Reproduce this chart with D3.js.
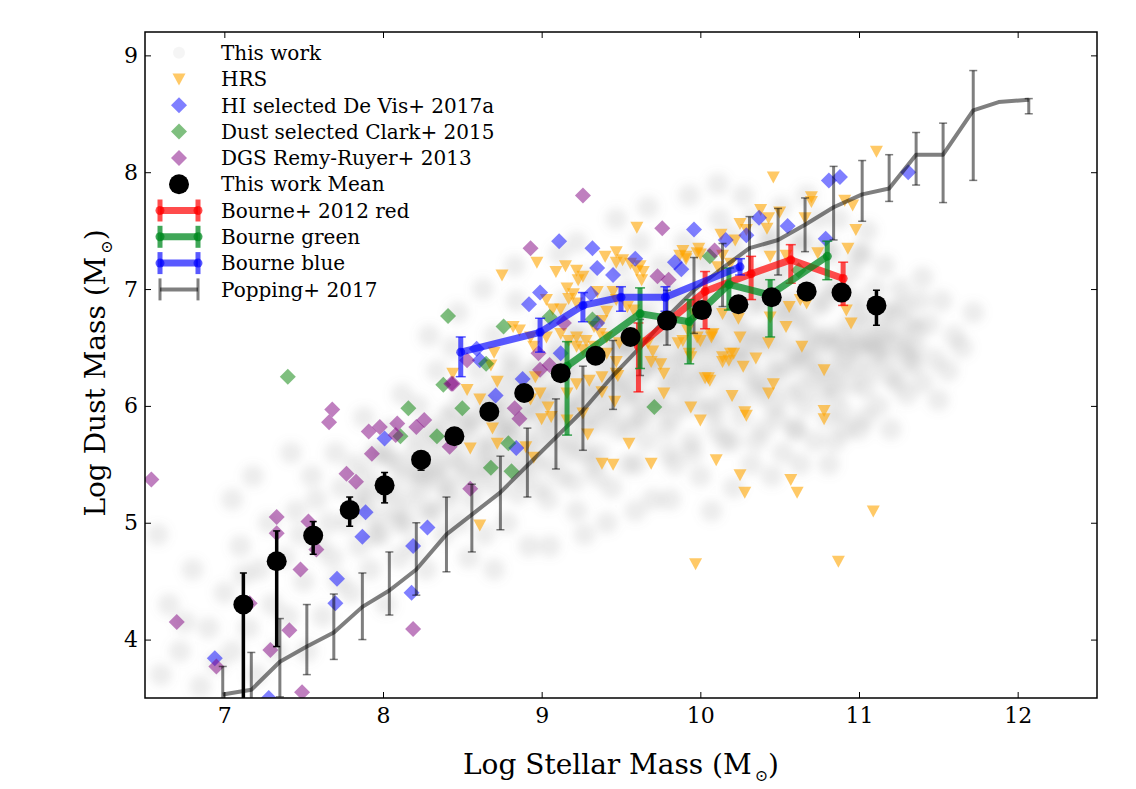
<!DOCTYPE html>
<html>
<head>
<meta charset="utf-8">
<script src="https://cdnjs.cloudflare.com/ajax/libs/d3/7.8.5/d3.min.js"></script>
<style>
  body { margin: 0; background: #fff; }
  text { font-family: "DejaVu Serif", serif; fill: #000; }
</style>
</head>
<body>
<svg id="chart" width="1136" height="789"></svg>
<script>
// ---- data (log stellar mass, log dust mass) ----
const xTicks = [7, 8, 9, 10, 11, 12];
const yTicks = [4, 5, 6, 7, 8, 9];

// faint background sample ("This work"), read off as a rough scatter
const cloudPts = [
  [6.6,3.7],[6.65,4.3],[6.72,3.9],[6.8,4.6],[6.85,3.6],[6.9,4.1],[6.58,4.9],[6.95,3.8],[6.75,4.15],
  [7.0,4.4],[7.05,3.9],[7.1,4.8],[7.15,4.1],[7.2,3.7],[7.22,4.6],[7.28,5.0],[7.3,4.3],[7.33,3.9],[7.05,5.2],[7.18,5.4],[7.12,4.55],
  [7.38,4.7],[7.4,4.2],[7.45,5.1],[7.5,4.5],[7.52,3.9],[7.55,5.4],[7.6,4.8],[7.62,4.2],[7.66,5.0],[7.7,5.6],[7.72,4.5],[7.42,5.6],[7.48,4.9],[7.58,5.2],[7.68,4.7],[7.74,5.3],
  [7.78,5.0],[7.8,4.4],[7.82,5.5],[7.85,4.8],[7.88,5.9],[7.9,5.2],[7.92,4.6],[7.95,5.6],[7.98,4.9],[8.0,5.3],[8.02,4.3],[8.05,5.8],[8.08,5.1],[8.1,4.7],[8.12,6.1],[8.14,5.4],[7.86,5.25],[7.96,5.05],[8.04,5.55],[8.1,5.0],
  [8.17,5.2],[8.19,4.8],[8.2,5.6],[8.22,6.0],[8.25,5.3],[8.27,4.6],[8.3,5.8],[8.32,5.1],[8.34,6.3],[8.36,5.5],[8.38,4.9],[8.4,5.9],[8.42,5.3],[8.44,6.5],[8.46,5.7],[8.48,5.0],[8.5,6.1],[8.52,5.4],[8.54,4.7],[8.23,5.45],[8.31,5.65],[8.37,5.35],[8.45,5.55],[8.51,5.8],[8.29,6.6],[8.47,6.8],
  [8.56,5.2],[8.58,5.9],[8.6,6.3],[8.62,5.5],[8.64,4.9],[8.66,6.0],[8.68,5.7],[8.7,6.6],[8.72,5.3],[8.74,6.2],[8.76,5.8],[8.78,5.0],[8.8,6.4],[8.82,5.6],[8.84,6.9],[8.86,5.9],[8.88,5.4],[8.9,6.2],[8.92,4.8],[8.94,6.0],[8.6,5.65],[8.67,5.45],[8.73,5.95],[8.79,5.75],[8.85,5.25],[8.91,5.7],[8.63,7.0],[8.83,7.2],[8.7,4.6],
  [8.96,5.5],[8.98,6.3],[9.0,5.9],[9.02,6.7],[9.04,5.2],[9.06,6.1],[9.08,5.7],[9.1,6.5],[9.12,5.4],[9.14,6.9],[9.16,6.0],[9.18,5.6],[9.2,6.3],[9.22,5.1],[9.24,6.6],[9.26,5.8],[9.28,7.1],[9.3,6.2],[9.32,5.5],[9.34,6.8],[9.0,6.05],[9.07,5.85],[9.13,6.2],[9.19,5.95],[9.25,6.1],[9.31,5.9],[9.05,4.8],[9.27,4.9],[9.11,7.3],[9.22,7.4],
  [9.36,5.6],[9.38,6.4],[9.4,6.0],[9.42,6.9],[9.44,5.3],[9.46,6.2],[9.48,5.8],[9.5,7.2],[9.52,6.5],[9.54,5.5],[9.56,6.1],[9.58,6.8],[9.6,5.9],[9.62,7.4],[9.64,6.3],[9.66,5.7],[9.68,6.6],[9.7,5.2],[9.72,7.0],[9.74,6.0],[9.39,6.15],[9.45,6.55],[9.51,6.25],[9.57,6.45],[9.63,6.05],[9.69,6.35],[9.41,5.0],[9.59,5.1],[9.47,7.6],[9.67,7.7],[9.55,6.7],
  [9.76,6.4],[9.78,5.8],[9.8,7.0],[9.82,6.2],[9.84,5.5],[9.86,6.7],[9.88,6.0],[9.9,7.4],[9.92,6.5],[9.94,5.7],[9.96,6.9],[9.98,6.2],[10.0,5.4],[10.02,6.6],[10.04,7.2],[10.06,6.0],[10.08,6.8],[10.1,5.8],[10.12,7.6],[10.14,6.4],[9.79,6.6],[9.85,6.35],[9.91,6.15],[9.97,6.55],[10.03,6.3],[10.09,6.5],[9.81,5.2],[10.07,5.1],[9.93,7.8],[10.11,7.9],[9.87,7.2],
  [10.16,6.1],[10.18,6.8],[10.2,5.7],[10.22,7.3],[10.24,6.4],[10.26,5.9],[10.28,7.0],[10.3,6.6],[10.32,5.5],[10.34,7.6],[10.36,6.2],[10.38,6.9],[10.4,5.8],[10.42,7.4],[10.44,6.5],[10.46,6.0],[10.48,7.1],[10.5,6.3],[10.52,5.6],[10.54,6.8],[10.19,6.45],[10.25,6.65],[10.31,6.25],[10.37,6.55],[10.43,6.15],[10.49,6.7],[10.21,5.3],[10.45,5.4],[10.27,7.8],[10.51,7.7],[10.35,7.1],
  [10.56,6.1],[10.58,6.9],[10.6,5.8],[10.62,7.4],[10.64,6.4],[10.66,6.0],[10.68,7.1],[10.7,6.6],[10.72,5.7],[10.74,7.6],[10.76,6.3],[10.78,6.9],[10.8,5.9],[10.82,7.3],[10.84,6.5],[10.86,6.1],[10.88,7.0],[10.9,6.4],[10.92,5.8],[10.94,6.7],[10.59,6.45],[10.65,6.7],[10.71,6.25],[10.77,6.55],[10.83,6.2],[10.89,6.6],[10.63,5.5],[10.81,5.5],[10.67,7.8],[10.87,7.6],
  [10.96,6.2],[10.98,6.9],[11.0,6.5],[11.02,7.3],[11.04,5.9],[11.06,6.7],[11.08,6.3],[11.1,7.0],[11.12,6.0],[11.14,6.6],[11.16,7.2],[11.18,6.4],[11.2,5.8],[11.22,6.8],[11.24,6.2],[11.26,7.0],[11.28,6.5],[11.3,6.1],[11.32,6.7],[11.34,6.35],[11.0,6.55],[11.11,6.45],[11.05,7.5],[11.19,6.65],
  [11.36,6.5],[11.38,6.9],[11.4,6.2],[11.44,6.7],[11.48,6.4],[11.52,6.9],[11.56,6.3],[11.6,6.6],[11.65,6.5],[11.72,6.8],[11.4,7.1],[11.5,6.05],
  // denser core of the band
  [7.85,5.1],[7.9,5.4],[7.95,4.9],[8.0,5.6],[8.05,5.25],[8.1,5.5],[8.15,5.0],[8.2,5.75],[8.25,5.4],[8.28,5.1],
  [8.32,5.45],[8.36,5.75],[8.41,5.2],[8.45,5.95],[8.5,5.5],[8.55,5.85],[8.6,5.35],[8.64,6.1],[8.68,5.6],[8.7,5.9],
  [8.74,5.5],[8.77,6.05],[8.8,5.8],[8.84,5.45],[8.87,6.15],[8.9,5.95],[8.93,5.6],[8.96,6.3],[9.0,5.75],[9.03,6.1],[9.06,5.5],[9.09,6.4],[8.82,6.3],[8.98,5.3],
  [9.12,5.9],[9.15,6.35],[9.18,5.7],[9.21,6.6],[9.24,6.0],[9.27,5.6],[9.3,6.45],[9.33,6.1],[9.36,5.85],[9.39,6.7],[9.42,6.3],[9.45,5.95],[9.48,6.5],[9.2,5.35],[9.35,5.4],[9.14,6.75],[9.44,6.95],
  [9.52,6.1],[9.55,5.8],[9.58,6.55],[9.61,6.25],[9.64,5.9],[9.67,6.8],[9.7,6.4],[9.73,6.05],[9.76,6.6],[9.79,6.2],[9.82,5.9],[9.85,6.9],[9.88,6.45],[9.6,5.5],[9.8,5.6],[9.55,7.0],[9.75,7.2],[9.65,6.5],
  [9.91,6.3],[9.94,6.7],[9.97,6.0],[10.0,6.45],[10.03,6.9],[10.06,6.25],[10.09,5.95],[10.12,6.6],[10.15,7.05],[10.18,6.3],[10.21,6.75],[10.24,6.05],[10.27,6.5],[9.95,5.6],[10.15,5.7],[10.0,7.3],[10.2,7.45],[10.05,6.6],
  [10.31,6.4],[10.34,6.85],[10.37,6.1],[10.4,6.6],[10.43,7.0],[10.46,6.3],[10.49,5.9],[10.52,6.55],[10.55,7.2],[10.58,6.35],[10.61,6.75],[10.64,6.15],[10.67,6.5],[10.35,5.7],[10.6,5.8],[10.45,7.45],[10.65,7.4],[10.5,6.85],
  [10.71,6.4],[10.74,6.85],[10.77,6.1],[10.8,6.6],[10.83,7.0],[10.86,6.3],[10.89,5.95],[10.92,6.5],[10.95,7.15],[10.98,6.35],[11.01,6.8],[11.04,6.15],[11.07,6.55],[10.85,5.7],[11.0,5.8],[10.8,7.35],[11.0,7.3],
  [11.12,6.5],[11.16,6.8],[11.2,6.25],[11.24,6.55],[11.28,6.85],[11.32,6.4],[11.36,6.65]
];

const hrsPts = [
  [8.97,7.23],[8.75,7.12],[9.60,7.53],[9.09,7.15],[9.15,7.20],[9.22,7.16],[9.26,7.11],[9.23,7.08],[9.40,7.28],[9.47,7.23],
  [9.51,7.25],[9.56,7.22],[9.60,7.16],[9.63,7.08],[9.87,7.29],[9.91,7.28],[9.98,7.31],[9.99,7.35],[9.16,7.01],[9.03,6.91],
  [9.07,6.83],[9.12,6.83],[9.17,6.92],[9.20,6.96],[9.22,6.88],[9.35,6.98],[9.45,6.98],[9.47,6.91],[9.54,6.85],[9.58,6.82],
  [9.41,6.81],[9.38,6.73],[9.33,6.68],[8.82,6.68],[8.86,6.65],[8.93,6.59],[8.95,6.51],[9.03,6.59],[9.12,6.62],[9.17,6.56],
  [9.22,6.59],[9.28,6.56],[9.37,6.62],[9.41,6.59],[9.26,6.48],[9.33,6.51],[9.41,6.45],[9.49,6.54],[9.67,6.54],[9.75,6.36],
  [9.77,6.28],[9.86,6.54],[9.89,6.56],[10.07,6.61],[8.44,6.28],[8.53,6.14],[8.61,6.06],[8.72,6.21],[8.69,5.81],[8.93,6.06],
  [8.99,6.11],[8.96,6.25],[9.04,5.99],[9.06,5.91],[9.00,5.89],[9.16,6.11],[9.22,6.19],[9.30,6.22],[9.38,6.12],[9.38,6.25],
  [9.47,6.28],[9.29,5.76],[9.26,5.94],[9.16,5.88],[9.55,5.68],[9.69,5.51],[9.38,5.51],[9.45,5.50],[9.77,6.11],[9.94,5.99],
  [10.00,5.88],[10.03,6.24],[10.06,6.22],[10.10,5.54],[8.55,5.64],[8.72,5.68],[8.90,5.65],[8.95,5.56],[8.70,6.46],[8.68,6.35],
  [10.46,7.96],[11.11,8.18],[10.70,7.79],[10.70,7.75],[10.91,7.76],[10.96,7.72],[10.38,7.68],[10.43,7.61],[10.50,7.66],[10.25,7.56],
  [10.29,7.51],[10.42,7.52],[10.66,7.61],[10.98,7.51],[10.93,7.35],[10.74,7.31],[10.44,7.28],[10.54,7.29],[10.14,7.29],[10.19,7.22],
  [10.11,7.19],[10.00,7.30],[9.91,7.26],[9.89,7.33],[10.56,6.85],[10.63,6.91],[10.67,6.88],[10.92,6.82],[10.95,6.71],[9.96,6.79],
  [9.92,6.65],[10.00,6.56],[10.07,6.59],[10.14,6.79],[10.24,6.75],[10.25,6.59],[10.44,6.76],[10.43,6.54],[10.54,6.68],[10.64,6.51],
  [10.78,6.31],[10.14,6.42],[10.19,6.45],[10.14,6.38],[10.27,6.34],[10.35,6.41],[10.05,6.24],[10.46,6.19],[10.43,6.11],[10.20,6.09],
  [10.28,5.95],[10.29,5.92],[10.78,5.96],[10.78,5.89],[9.93,6.45],[9.46,6.04],[10.25,5.41],[10.28,5.26],[10.57,5.37],[10.61,5.26],
  [11.09,5.10],[9.97,4.65],[10.87,4.67],[9.47,7.32],[9.64,7.15],[9.62,7.20],[10.13,7.47],[10.22,7.42],[10.08,6.62],[10.18,6.39],
  [10.21,6.45],[9.94,6.42],[9.98,6.59],[9.22,6.51],[9.47,6.38],[9.48,6.26],[9.70,6.47],[9.69,6.38],[8.61,4.98]
];

const hiPts = [
  [6.94,3.84],[7.28,3.50],[7.71,4.52],[7.70,4.31],[7.89,5.09],[7.87,4.88],[8.01,5.72],[8.19,4.80],[8.18,4.40],[8.28,4.96],
  [9.11,7.41],[9.32,7.35],[9.35,7.18],[9.45,7.12],[8.99,6.97],[8.92,6.87],[9.31,6.96],[9.59,7.26],[9.96,7.51],[9.84,7.23],
  [9.88,7.17],[8.59,6.49],[8.61,6.39],[9.12,6.45],[8.71,6.09],[8.88,6.23],[8.84,5.64],[9.35,6.71],[10.16,7.42],[10.37,7.61],
  [10.29,7.46],[10.55,7.54],[10.79,7.43],[10.81,7.93],[10.88,7.96],[11.31,8.00]
];

const clarkPts = [
  [7.40,6.25],[8.16,5.98],[8.11,5.74],[8.34,5.74],[8.41,6.77],[8.38,6.18],[8.76,6.68],[8.50,5.98],[8.65,6.36],
  [8.68,5.47],[8.79,5.68],[8.81,5.44],[9.32,6.74],[9.71,5.99],[10.06,7.28],[9.05,6.76],[10.62,7.16]
];

const dgsPts = [
  [6.54,5.37],[6.70,4.15],[6.95,3.77],[7.16,4.31],[7.33,5.05],[7.33,4.91],[7.29,3.91],[7.41,4.08],[7.48,4.60],[7.49,3.55],
  [7.53,5.01],[7.58,4.77],[7.68,5.97],[7.66,5.86],[7.77,5.42],[7.83,5.35],[7.91,5.78],[7.93,5.59],[7.98,5.82],[8.09,5.85],
  [8.08,5.75],[8.21,5.82],[8.26,5.88],[8.19,4.09],[8.42,5.65],[8.44,6.19],[9.26,7.80],[8.93,7.35],[9.76,7.52],[9.73,7.11],
  [9.80,7.08],[9.14,6.71],[8.98,6.45],[8.53,6.39],[8.43,6.19],[8.83,5.98],[8.86,5.89],[8.99,6.31],[9.05,6.35],[8.55,5.29],
  [10.09,7.33]
];

// binned means of this work
const meanX  = [7.12, 7.33, 7.56, 7.79, 8.01, 8.24, 8.45, 8.67, 8.89, 9.12, 9.34, 9.56, 9.79, 10.01, 10.24, 10.45, 10.67, 10.89, 11.11];
const meanY  = [4.30, 4.67, 4.89, 5.11, 5.32, 5.54, 5.74, 5.95, 6.11, 6.28, 6.43, 6.59, 6.73, 6.82, 6.87, 6.93, 6.98, 6.97, 6.86];
const meanLo = [3.00, 3.94, 4.73, 4.97, 5.17, 5.45, 5.70, 5.92, 6.09, 6.26, 6.41, 6.57, 6.71, 6.80, 6.85, 6.91, 6.96, 6.93, 6.69];
const meanHi = [4.57, 4.93, 5.01, 5.22, 5.43, 5.61, 5.78, 5.98, 6.13, 6.30, 6.45, 6.61, 6.75, 6.84, 6.89, 6.95, 7.00, 7.01, 6.99];

// Bourne+ 2012 colour-split samples
const redX  = [9.61, 10.03, 10.32, 10.57, 10.90];
const redY  = [6.51, 6.98, 7.13, 7.25, 7.09];
const redLo = [6.12, 6.66, 6.91, 7.05, 6.86];
const redHi = [6.71, 7.15, 7.28, 7.38, 7.23];

const greenX  = [9.16, 9.62, 9.93, 10.18, 10.44, 10.80];
const greenY  = [6.34, 6.79, 6.72, 7.04, 6.95, 7.28];
const greenLo = [5.75, 6.32, 6.36, 6.82, 6.59, 7.08];
const greenHi = [6.55, 7.01, 6.91, 7.18, 7.08, 7.41];

const blueX  = [8.49, 8.99, 9.26, 9.50, 9.78, 10.25];
const blueY  = [6.46, 6.63, 6.86, 6.93, 6.93, 7.19];
const blueLo = [6.25, 6.46, 6.72, 6.81, 6.81, 7.12];
const blueHi = [6.59, 6.75, 6.97, 7.02, 7.02, 7.26];

// Popping+ 2017 model
const popX  = [6.99, 7.17, 7.35, 7.52, 7.69, 7.87, 8.04, 8.21, 8.40, 8.56, 8.74, 8.91, 9.09, 9.26, 9.45,
               9.62, 9.79, 9.96, 10.14, 10.31, 10.49, 10.66, 10.84, 11.02, 11.19, 11.36, 11.53, 11.72, 11.88, 12.07];
const popY  = [3.53, 3.57, 3.81, 3.94, 4.06, 4.28, 4.42, 4.60, 4.90, 5.07, 5.26, 5.49, 5.73, 5.96, 6.26,
               6.50, 6.76, 6.99, 7.18, 7.35, 7.42, 7.55, 7.70, 7.81, 7.86, 8.15, 8.15, 8.53, 8.60, 8.62];
const popLo = [3.30, 3.30, 3.51, 3.70, 3.83, 4.00, 4.21, 4.38, 4.58, 4.75, 4.94, 5.22, 5.46, 5.62, 5.97,
               6.26, 6.52, 6.62, 6.85, 7.12, 7.12, 7.32, 7.42, 7.58, 7.75, 7.89, 7.74, 7.93, 8.60, 8.50];
const popHi = [3.77, 3.89, 4.18, 4.30, 4.39, 4.57, 4.75, 5.00, 5.22, 5.33, 5.57, 5.81, 6.06, 6.34, 6.56,
               6.74, 6.99, 7.27, 7.39, 7.62, 7.69, 7.78, 8.05, 8.10, 8.15, 8.34, 8.42, 8.87, 8.60, 8.63];

const legendLabels = ["This work", "HRS", "HI selected De Vis+ 2017a", "Dust selected Clark+ 2015",
  "DGS Remy-Ruyer+ 2013", "This work Mean", "Bourne+ 2012 red", "Bourne green", "Bourne blue", "Popping+ 2017"];

// ---- setup ----
const svg = d3.select("#chart");
const x = d3.scaleLinear().domain([6.5, 12.5]).range([145, 1097]);
const y = d3.scaleLinear().domain([3.5, 9.2]).range([698, 32]);
const [x0, x1] = x.range();
const [y0, y1] = y.range();

const triPath = "M-6.5,-5.5L6.5,-5.5L0,6.5Z";
const diaPath = "M0,-8L8,0L0,8L-8,0Z";

const defs = svg.append("defs");
defs.append("clipPath").attr("id", "plotClip")
  .append("rect").attr("x", x0).attr("y", y1).attr("width", x1 - x0).attr("height", y0 - y1);
defs.append("filter").attr("id", "soft").attr("x", "-5%").attr("y", "-5%").attr("width", "110%").attr("height", "110%")
  .append("feGaussianBlur").attr("stdDeviation", 5);

const plot = svg.append("g").attr("clip-path", "url(#plotClip)");

// background cloud
plot.append("g").attr("filter", "url(#soft)")
  .selectAll("circle").data(cloudPts).join("circle")
  .attr("cx", d => x(d[0])).attr("cy", d => y(d[1]))
  .attr("r", 11).attr("fill", "#808080").attr("fill-opacity", 0.15);

const drawMarkers = (pts, path, color, op) => {
  plot.append("g").selectAll("path").data(pts).join("path")
    .attr("d", path)
    .attr("transform", d => `translate(${x(d[0])},${y(d[1])})`)
    .attr("fill", color).attr("fill-opacity", op);
};
drawMarkers(hrsPts, triPath, "#ffa500", 0.6);
drawMarkers(hiPts, diaPath, "#0000ff", 0.5);
drawMarkers(clarkPts, diaPath, "#008000", 0.5);
drawMarkers(dgsPts, diaPath, "#800080", 0.5);

const rows = (xs, ys, lo, hi) => xs.map((d, i) => ({x: d, y: ys[i], lo: lo[i], hi: hi[i]}));

function errLine(data, o) {
  const g = plot.append("g");
  if (o.lineW) {
    g.append("path").datum(data)
      .attr("fill", "none").attr("stroke", o.color).attr("stroke-opacity", o.op)
      .attr("stroke-width", o.lineW).attr("stroke-linejoin", "round")
      .attr("d", d3.line().x(d => x(d.x)).y(d => y(d.y)));
  }
  const bars = g.selectAll("g.bar").data(data.filter(d => d.hi > d.lo)).join("g").attr("class", "bar");
  bars.append("line")
    .attr("x1", d => x(d.x)).attr("x2", d => x(d.x))
    .attr("y1", d => y(d.lo)).attr("y2", d => y(d.hi))
    .attr("stroke", o.color).attr("stroke-opacity", o.op).attr("stroke-width", o.barW);
  [d => d.lo, d => d.hi].forEach(f => {
    bars.append("line")
      .attr("x1", d => x(d.x) - o.cap).attr("x2", d => x(d.x) + o.cap)
      .attr("y1", d => y(f(d))).attr("y2", d => y(f(d)))
      .attr("stroke", o.color).attr("stroke-opacity", o.op).attr("stroke-width", 1.5);
  });
  if (o.dotR) {
    g.selectAll("circle").data(data).join("circle")
      .attr("cx", d => x(d.x)).attr("cy", d => y(d.y)).attr("r", o.dotR)
      .attr("fill", o.color).attr("fill-opacity", o.op);
  }
}

errLine(rows(popX, popY, popLo, popHi), {color: "#000", op: 0.5, lineW: 4, barW: 3, cap: 4});
errLine(rows(redX, redY, redLo, redHi), {color: "#ff0000", op: 0.7, lineW: 7, barW: 5, cap: 5, dotR: 4.5});
errLine(rows(greenX, greenY, greenLo, greenHi), {color: "#008a20", op: 0.75, lineW: 7, barW: 5, cap: 5, dotR: 4.5});
errLine(rows(blueX, blueY, blueLo, blueHi), {color: "#0000ff", op: 0.65, lineW: 7, barW: 5, cap: 5, dotR: 4.5});
errLine(rows(meanX, meanY, meanLo, meanHi), {color: "#000", op: 1, barW: 3.5, cap: 3.5, dotR: 10});

// ---- axes ----
const fmt = d3.format("d");
const styleAxis = g => {
  g.select(".domain").remove();
  g.selectAll(".tick line").attr("stroke", "#000").attr("stroke-width", 1);
  g.selectAll(".tick text").attr("font-family", "DejaVu Serif").attr("font-size", 22);
};
svg.append("g").attr("transform", `translate(0,${y0})`)
  .call(d3.axisBottom(x).tickValues(xTicks).tickFormat(fmt).tickSize(-6).tickPadding(9)).call(styleAxis);
svg.append("g").attr("transform", `translate(0,${y1})`)
  .call(d3.axisTop(x).tickValues(xTicks).tickFormat("").tickSize(-6)).call(styleAxis);
svg.append("g").attr("transform", `translate(${x0},0)`)
  .call(d3.axisLeft(y).tickValues(yTicks).tickFormat(fmt).tickSize(-6).tickPadding(7)).call(styleAxis);
svg.append("g").attr("transform", `translate(${x1},0)`)
  .call(d3.axisRight(y).tickValues(yTicks).tickFormat("").tickSize(-6)).call(styleAxis);

svg.append("rect").attr("x", x0).attr("y", y1).attr("width", x1 - x0).attr("height", y0 - y1)
  .attr("fill", "none").attr("stroke", "#000").attr("stroke-width", 1.5);

// axis titles with the solar subscript
const title = (t, label) => {
  t.attr("font-size", 28).attr("text-anchor", "middle");
  t.append("tspan").text(label + " (M");
  t.append("tspan").text("\u2299").attr("font-size", 16).attr("dx", 3).attr("dy", 7);
  t.append("tspan").text(")").attr("dy", -7);
};
svg.append("text").attr("x", (x0 + x1) / 2).attr("y", 774).call(title, "Log Stellar Mass");
svg.append("text").attr("transform", `translate(105,373) rotate(-90)`).call(title, "Log Dust Mass");

// ---- legend ----
const leg = svg.append("g");
const rowY = i => 52.7 + i * 26.3;
const mx = 179;
legendLabels.forEach((lab, i) => {
  leg.append("text").attr("x", 221).attr("y", rowY(i)).attr("dy", "0.36em")
    .attr("font-size", 20).text(lab);
});
leg.append("circle").attr("cx", mx).attr("cy", rowY(0)).attr("r", 6).attr("fill", "#808080").attr("fill-opacity", 0.08);
[[triPath, "#ffa500", 0.6], [diaPath, "#0000ff", 0.5], [diaPath, "#008000", 0.5], [diaPath, "#800080", 0.5]]
  .forEach(([p, c, o], k) => {
    leg.append("path").attr("d", p).attr("transform", `translate(${mx},${rowY(k + 1)})`)
      .attr("fill", c).attr("fill-opacity", o);
  });
leg.append("circle").attr("cx", mx).attr("cy", rowY(5)).attr("r", 10).attr("fill", "#000");
[["#ff0000", 0.7, true], ["#008a20", 0.75, true], ["#0000ff", 0.65, true], ["#000", 0.5, false]]
  .forEach(([c, o, dots], k) => {
    const yy = rowY(k + 6);
    const ends = [160, 198];
    leg.append("line").attr("x1", ends[0]).attr("x2", ends[1]).attr("y1", yy).attr("y2", yy)
      .attr("stroke", c).attr("stroke-opacity", o).attr("stroke-width", dots ? 7 : 4);
    ends.forEach(ex => {
      leg.append("line").attr("x1", ex).attr("x2", ex).attr("y1", yy - 11).attr("y2", yy + 11)
        .attr("stroke", c).attr("stroke-opacity", o).attr("stroke-width", dots ? 5 : 3);
      if (dots) leg.append("circle").attr("cx", ex).attr("cy", yy).attr("r", 4.5)
        .attr("fill", c).attr("fill-opacity", o);
    });
  });
</script>
</body>
</html>
